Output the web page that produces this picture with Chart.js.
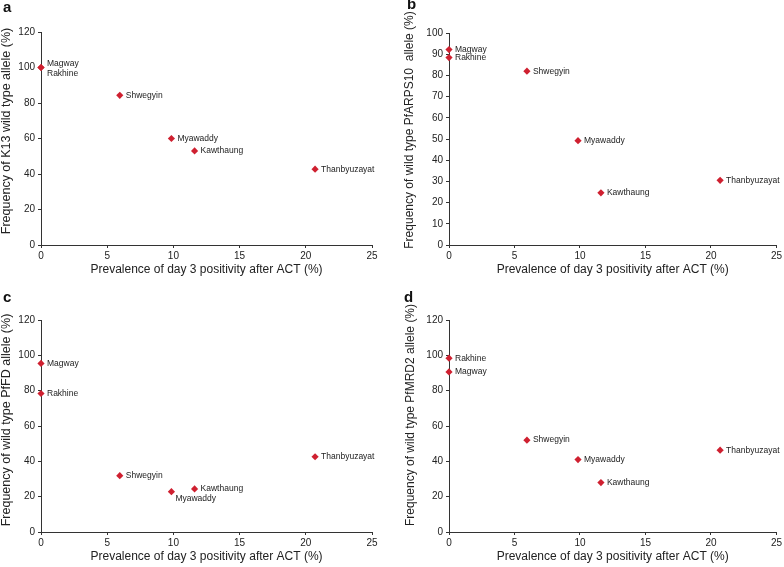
<!DOCTYPE html>
<html>
<head>
<meta charset="utf-8">
<script src="https://cdn.jsdelivr.net/npm/chart.js@4/dist/chart.umd.min.js"></script>
<style>
  html, body { margin: 0; padding: 0; background: #fff; }
  body { width: 784px; height: 567px; position: relative; overflow: hidden; }
  .panel { position: absolute; }
</style>
</head>
<body>
<div class="panel" style="left:0;top:0;width:392px;height:283px"><canvas id="chartA"></canvas></div>
<div class="panel" style="left:392px;top:0;width:392px;height:283px"><canvas id="chartB"></canvas></div>
<div class="panel" style="left:0;top:283px;width:392px;height:284px"><canvas id="chartC"></canvas></div>
<div class="panel" style="left:392px;top:283px;width:392px;height:284px"><canvas id="chartD"></canvas></div>
<script>
// study sites and day-3 positivity (x)
const sites = ['Magway', 'Rakhine', 'Shwegyin', 'Myawaddy', 'Kawthaung', 'Thanbyuzayat'];
const day3Positivity = [0, 0, 5.95, 9.85, 11.6, 20.7];

// wild type allele frequencies (y), one array per panel
const k13Wild = [100, 100, 84.3, 60, 53, 42.7];
const pfarps10Wild = [92.2, 88.4, 82, 49.2, 24.6, 30.5];
const pfdWild = [95.4, 78.4, 31.9, 22.8, 24.4, 42.6];
const pfmrd2Wild = [90.6, 98.4, 52, 41, 28, 46.3];

const xTicks = [0, 5, 10, 15, 20, 25];

const FONT = "Arial, 'Liberation Sans', sans-serif";
const red = '#cf2030';
const ink = '#222';

// label offsets per point (dx, dy) - mostly to the right of the marker
const rightOf = sites.map(() => [6, 0]);

// site names next to markers, rotated y title and panel letter
const panelText = {
  id: 'panelText',
  afterDatasetsDraw(chart, args, opts) {
    const ctx = chart.ctx;
    const meta = chart.getDatasetMeta(0);
    ctx.save();
    ctx.font = '8.5px ' + FONT;
    ctx.fillStyle = ink;
    ctx.textAlign = 'left';
    ctx.textBaseline = 'middle';
    meta.data.forEach((pt, i) => {
      const off = opts.offsets[i];
      ctx.fillText(sites[i], pt.x + off[0], pt.y + off[1]);
    });

    ctx.save();
    ctx.translate(opts.yTitleAt[0], opts.yTitleAt[1]);
    ctx.rotate(-Math.PI / 2);
    ctx.textAlign = 'center';
    ctx.font = opts.yTitleSize + 'px ' + FONT;
    ctx.fillText(opts.yTitle, 0, 0);
    ctx.restore();

    ctx.font = 'bold 15px ' + FONT;
    ctx.fillStyle = '#111';
    ctx.textBaseline = 'alphabetic';
    ctx.fillText(opts.tag, opts.tagAt[0], opts.tagAt[1]);
    ctx.restore();
  }
};

function makePanel(id, yValues, yMax, yStep, box, text) {
  const pts = day3Positivity.map((x, i) => ({ x: x, y: yValues[i] }));
  return new Chart(document.getElementById(id), {
    type: 'scatter',
    data: {
      datasets: [{
        data: pts,
        pointStyle: 'rectRot',
        pointRadius: 3.6,
        pointHoverRadius: 3.6,
        backgroundColor: red,
        borderColor: red,
        borderWidth: 0,
        clip: false
      }]
    },
    options: {
      responsive: true,
      maintainAspectRatio: false,
      animation: false,
      events: [],
      layout: { padding: { left: box.pl, top: box.pt, right: box.pr, bottom: 0 } },
      plugins: {
        legend: { display: false },
        tooltip: { enabled: false },
        panelText: text
      },
      scales: {
        x: {
          type: 'linear',
          min: 0,
          max: 25,
          afterBuildTicks: s => { s.ticks = xTicks.map(v => ({ value: v })); },
          afterFit: s => { s.height = box.xh; },
          grid: { drawOnChartArea: false, drawTicks: true, tickLength: 3, tickColor: '#333' },
          border: { display: true, color: '#333', width: 1 },
          ticks: { color: ink, font: { size: 10, family: FONT }, padding: 2, maxRotation: 0 },
          title: {
            display: true,
            text: 'Prevalence of day 3 positivity after ACT (%)',
            color: ink,
            font: { size: 12, family: FONT },
            padding: { top: 0, bottom: box.tb }
          }
        },
        y: {
          min: 0,
          max: yMax,
          ticks: { stepSize: yStep, color: ink, font: { size: 10, family: FONT }, padding: 3 },
          afterFit: s => { s.width = box.yw; },
          grid: { drawOnChartArea: false, drawTicks: true, tickLength: 3, tickColor: '#333' },
          border: { display: true, color: '#333', width: 1 }
        }
      }
    },
    plugins: [panelText]
  });
}

const offA = rightOf.slice();
offA[0] = [6, -4];
offA[1] = [6, 6];
const offC = rightOf.slice();
offC[3] = [4, 7];

makePanel('chartA', k13Wild, 120, 20,
  { pl: 0, yw: 41, pt: 32, pr: 20, xh: 38, tb: 6 },
  { offsets: offA, yTitle: 'Frequency of K13 wild type allele (%)', yTitleSize: 12.5, yTitleAt: [7, 131], tag: 'a', tagAt: [3, 12] });
makePanel('chartB', pfarps10Wild, 100, 10,
  { pl: 11, yw: 46, pt: 33, pr: 7, xh: 38, tb: 6 },
  { offsets: rightOf, yTitle: 'Frequency of wild type PfARPS10  allele (%)', yTitleSize: 12, yTitleAt: [18, 130], tag: 'b', tagAt: [15, 9] });
makePanel('chartC', pfdWild, 120, 20,
  { pl: 0, yw: 41, pt: 37, pr: 20, xh: 35, tb: 3 },
  { offsets: offC, yTitle: 'Frequency of wild type PfFD allele (%)', yTitleSize: 12.5, yTitleAt: [7, 137], tag: 'c', tagAt: [3, 19] });
makePanel('chartD', pfmrd2Wild, 120, 20,
  { pl: 11, yw: 46, pt: 37, pr: 7, xh: 35, tb: 3 },
  { offsets: rightOf, yTitle: 'Frequency of wild type PfMRD2 allele (%)', yTitleSize: 12, yTitleAt: [19, 132], tag: 'd', tagAt: [12, 19] });
</script>
</body>
</html>
